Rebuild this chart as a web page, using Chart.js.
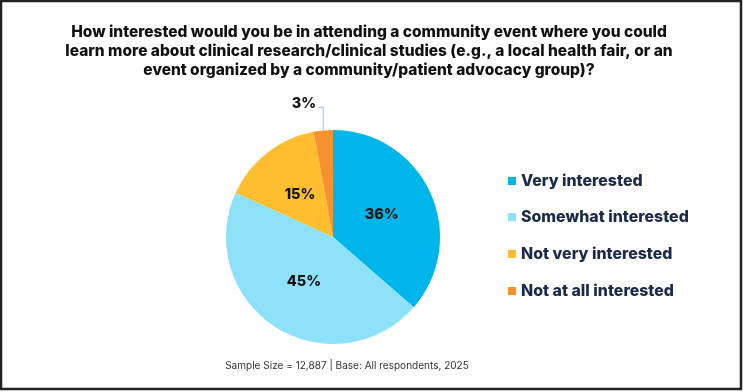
<!DOCTYPE html>
<html>
<head>
<meta charset="utf-8">
<script src="https://cdn.jsdelivr.net/npm/chart.js@4"></script>
<style>
html,body{margin:0;padding:0;background:#fff;}
#wrap{position:relative;width:743px;height:392px;}
canvas{display:block;}
</style>
</head>
<body>
<div id="wrap"><canvas id="c" width="743" height="392"></canvas></div>
<script>
const titleLines = [
  "How interested would you be in attending a community event where you could",
  "learn more about clinical research/clinical studies (e.g., a local health fair, or an",
  "event organized by a community/patient advocacy group)?"
];
const categories = ["Very interested", "Somewhat interested", "Not very interested", "Not at all interested"];
const values = [36.4, 45.4, 15.3, 2.9];
const colors = ["#00B5E9", "#8DE2FA", "#FEBE2F", "#F7922F"];
const footnote = "Sample Size = 12,887 | Base: All respondents, 2025";

const FONT = "Inter, 'Open Sans', sans-serif";

function fitSize(ctx, text, weight, target, family) {
  let s = 20;
  ctx.font = weight + " " + s + "px " + family;
  const w = ctx.measureText(text).width;
  return s * target / w;
}

const decor = {
  id: 'decor',
  afterDraw(chart) {
    const ctx = chart.ctx;
    ctx.save();
    // frame
    ctx.strokeStyle = "#222";
    ctx.lineWidth = 2.5;
    ctx.strokeRect(1, 1, 740, 388);
    // title
    const ts = fitSize(ctx, titleLines[1], "800", 608, FONT);
    ctx.font = "800 " + ts + "px " + FONT;
    ctx.fillStyle = "#111";
    ctx.textAlign = "center";
    ctx.textBaseline = "middle";
    const ty = [32, 51, 70];
    titleLines.forEach((l, i) => ctx.fillText(l, 369, ty[i]));
    // legend
    const ls = fitSize(ctx, categories[1], "800", 168, FONT);
    ctx.font = "800 " + ls + "px " + FONT;
    ctx.textAlign = "left";
    const ly = [181, 217, 254, 291];
    categories.forEach((c, i) => {
      ctx.fillStyle = colors[i];
      ctx.fillRect(508, ly[i] - 4, 8, 8);
      ctx.fillStyle = "#1B2A4A";
      ctx.fillText(c, 521, ly[i]);
    });
    // footnote
    const fs = fitSize(ctx, footnote, "400", 244, FONT);
    ctx.font = "400 " + fs + "px " + FONT;
    ctx.fillStyle = "#333";
    ctx.textAlign = "center";
    ctx.fillText(footnote, 347, 366);
    // slice labels
    const meta = chart.getDatasetMeta(0);
    const total = values.reduce((a, b) => a + b, 0);
    ctx.font = "800 14.5px " + FONT;
    ctx.fillStyle = "#111";
    meta.data.forEach((arc, i) => {
      const pct = Math.round(values[i] / total * 100) + "%";
      if (values[i] / total < 0.05) {
        const p = arc.getProps(['x', 'y', 'startAngle', 'endAngle', 'outerRadius'], true);
        const mid = (p.startAngle + p.endAngle) / 2;
        const ex = p.x + Math.cos(mid) * p.outerRadius;
        const ey = p.y + Math.sin(mid) * p.outerRadius;
        ctx.strokeStyle = "#A8CFEF";
        ctx.lineWidth = 1.2;
        ctx.beginPath();
        ctx.moveTo(ex, ey);
        ctx.lineTo(ex, ey - 23);
        ctx.lineTo(ex - 5, ey - 23);
        ctx.stroke();
        ctx.textAlign = "right";
        ctx.fillText(pct, ex - 7, ey - 27);
      } else {
        const c = arc.getCenterPoint();
        ctx.textAlign = "center";
        ctx.fillText(pct, c.x, c.y);
      }
    });
    ctx.restore();
  }
};

new Chart(document.getElementById('c'), {
  type: 'pie',
  data: {
    labels: categories,
    datasets: [{ data: values, backgroundColor: colors, borderWidth: 0 }]
  },
  options: {
    responsive: false,
    animation: false,
    layout: { padding: { top: 130, bottom: 48, left: 226, right: 303 } },
    plugins: { legend: { display: false }, tooltip: { enabled: false }, title: { display: false } }
  },
  plugins: [decor]
});
</script>
</body>
</html>
